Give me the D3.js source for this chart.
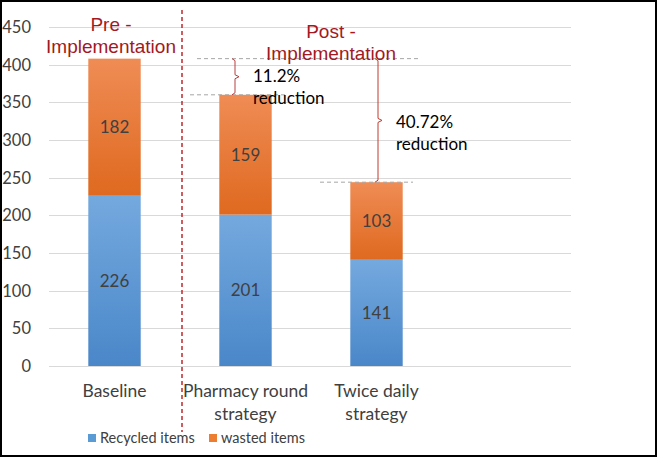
<!DOCTYPE html>
<html>
<head>
<meta charset="utf-8">
<script src="https://cdnjs.cloudflare.com/ajax/libs/d3/7.8.5/d3.min.js"></script>
<style>
  body { margin: 0; background: #fff; }
  svg { display: block; }
</style>
</head>
<body>
<div id="chart"></div>
<script>
(function() {

  var categories = [['Baseline'], ['Pharmacy round', 'strategy'], ['Twice daily', 'strategy']];
  var recycled = [226, 201, 141];
  var wasted = [182, 159, 103];
  var yTicks = [0, 50, 100, 150, 200, 250, 300, 350, 400, 450];
  var seriesNames = ['Recycled items', 'wasted items'];
  var reductions = ['11.2%', '40.72%'];

  var width = 661, height = 459;
  var labelFont = 'Lato, "Open Sans", sans-serif';

  var svg = d3.select('#chart')
    .append('svg')
    .attr('width', width)
    .attr('height', height);

  var defs = svg.append('defs');
  function gradient(id, top, bottom) {
    var g = defs.append('linearGradient').attr('id', id)
      .attr('x1', 0).attr('y1', 0).attr('x2', 0).attr('y2', 1);
    g.append('stop').attr('offset', '0%').attr('stop-color', top);
    g.append('stop').attr('offset', '100%').attr('stop-color', bottom);
  }
  gradient('blueGrad', '#74a9de', '#4a87c9');
  gradient('orangeGrad', '#ef8c55', '#df691f');

  var keys = categories.map(function(c) { return c.join(' '); });

  var x = d3.scaleBand()
    .domain(keys)
    .range([49, 442])
    .paddingInner(0.6)
    .paddingOuter(0.3);

  var y = d3.scaleLinear()
    .domain([0, 450])
    .range([366, 27]);

  // gridlines
  svg.append('g')
    .selectAll('line')
    .data(yTicks)
    .enter()
    .append('line')
    .attr('x1', 49)
    .attr('x2', 571)
    .attr('y1', function(d) { return Math.round(y(d)) + 0.5; })
    .attr('y2', function(d) { return Math.round(y(d)) + 0.5; })
    .attr('stroke', '#d9d9d9')
    .attr('stroke-width', 1);

  // y labels
  svg.append('g')
    .selectAll('text')
    .data(yTicks)
    .enter()
    .append('text')
    .attr('x', 31)
    .attr('y', function(d) { return y(d) + 6; })
    .attr('text-anchor', 'end')
    .attr('font-family', labelFont)
    .attr('font-size', 16.5)
    .attr('fill', '#404040')
    .text(function(d) { return d; });

  var stacked = keys.map(function(k, i) {
    return { key: k, r: recycled[i], w: wasted[i] };
  });

  var bars = svg.append('g');

  bars.selectAll('rect.rec')
    .data(stacked)
    .enter()
    .append('rect')
    .attr('x', function(d) { return x(d.key); })
    .attr('width', x.bandwidth())
    .attr('y', function(d) { return y(d.r); })
    .attr('height', function(d) { return y(0) - y(d.r); })
    .attr('fill', 'url(#blueGrad)');

  bars.selectAll('rect.was')
    .data(stacked)
    .enter()
    .append('rect')
    .attr('x', function(d) { return x(d.key); })
    .attr('width', x.bandwidth())
    .attr('y', function(d) { return y(d.r + d.w); })
    .attr('height', function(d) { return y(d.r) - y(d.r + d.w); })
    .attr('fill', 'url(#orangeGrad)');

  // value labels
  bars.selectAll('text.rec')
    .data(stacked)
    .enter()
    .append('text')
    .attr('x', function(d) { return x(d.key) + x.bandwidth() / 2; })
    .attr('y', function(d) { return (y(0) + y(d.r)) / 2 + 6; })
    .attr('text-anchor', 'middle')
    .attr('font-family', labelFont)
    .attr('font-size', 17)
    .attr('fill', '#404040')
    .text(function(d) { return d.r; });

  bars.selectAll('text.was')
    .data(stacked)
    .enter()
    .append('text')
    .attr('x', function(d) { return x(d.key) + x.bandwidth() / 2; })
    .attr('y', function(d) { return (y(d.r) + y(d.r + d.w)) / 2 + 6; })
    .attr('text-anchor', 'middle')
    .attr('font-family', labelFont)
    .attr('font-size', 17)
    .attr('fill', '#404040')
    .text(function(d) { return d.w; });

  // x labels
  var xl = svg.append('g');
  categories.forEach(function(lines, i) {
    var t = xl.append('text')
      .attr('x', x(keys[i]) + x.bandwidth() / 2)
      .attr('y', 397)
      .attr('text-anchor', 'middle')
      .attr('font-family', labelFont)
      .attr('font-size', 17.5)
      .attr('fill', '#404040');
    lines.forEach(function(l, j) {
      t.append('tspan')
        .attr('x', x(keys[i]) + x.bandwidth() / 2)
        .attr('dy', j === 0 ? 0 : 23)
        .text(l);
    });
  });

  // legend
  var legend = svg.append('g');
  var legendX = [88, 209];
  seriesNames.forEach(function(name, i) {
    legend.append('rect')
      .attr('x', legendX[i])
      .attr('y', 434)
      .attr('width', 8)
      .attr('height', 8)
      .attr('fill', i === 0 ? '#5b9bd5' : '#ed7d31');
    legend.append('text')
      .attr('x', legendX[i] + 12)
      .attr('y', 443)
      .attr('font-family', labelFont)
      .attr('font-size', 14.5)
      .attr('fill', '#404040')
      .text(name);
  });

  // annotations
  var ann = svg.append('g');
  var totals = stacked.map(function(d) { return d.r + d.w; });

  ann.append('line')
    .attr('x1', 182).attr('x2', 182).attr('y1', 10).attr('y2', 432)
    .attr('stroke', '#c0282d').attr('stroke-width', 1.5)
    .attr('stroke-dasharray', '4,3');

  function dashed(x1, x2, v) {
    ann.append('line')
      .attr('x1', x1).attr('x2', x2)
      .attr('y1', y(v)).attr('y2', y(v))
      .attr('stroke', '#a6a6a6').attr('stroke-width', 1)
      .attr('stroke-dasharray', '4,3');
  }
  dashed(197, 418, totals[0]);
  dashed(190, 285, totals[1]);
  dashed(320, 413, totals[2]);

  function bracket(bx, v1, v2, color) {
    var y1 = y(v1), y2 = y(v2), ym = (y1 + y2) / 2;
    ann.append('path')
      .attr('d', 'M' + (bx - 3) + ',' + y1 + ' L' + bx + ',' + (y1 + 2) +
        ' L' + bx + ',' + (ym - 2) + ' L' + (bx + 4) + ',' + ym +
        ' L' + bx + ',' + (ym + 2) + ' L' + bx + ',' + (y2 - 2) +
        ' L' + (bx - 3) + ',' + y2)
      .attr('fill', 'none')
      .attr('stroke', color)
      .attr('stroke-width', 1);
  }
  bracket(235, totals[0], totals[1], '#b5403f');
  bracket(378, totals[0], totals[2], '#c0392b');

  function note(tx, ty, lines) {
    var t = ann.append('text')
      .attr('x', tx).attr('y', ty)
      .attr('font-family', labelFont)
      .attr('font-size', 17)
      .attr('fill', '#000');
    lines.forEach(function(l, j) {
      t.append('tspan').attr('x', tx).attr('dy', j === 0 ? 0 : 22).text(l);
    });
  }
  note(253, 82, [reductions[0], 'reduction']);
  note(396, 128, [reductions[1], 'reduction']);

  function heading(cx, ty, lines) {
    var t = ann.append('text')
      .attr('x', cx).attr('y', ty)
      .attr('text-anchor', 'middle')
      .attr('font-family', '"Liberation Sans", Arial, sans-serif')
      .attr('font-size', 19)
      .attr('fill', '#a3191f');
    lines.forEach(function(l, j) {
      t.append('tspan').attr('x', cx).attr('dy', j === 0 ? 0 : 22).text(l);
    });
  }
  heading(111, 31, ['Pre -', 'Implementation']);
  heading(331, 38, ['Post -', 'Implementation']);

  // frame
  svg.append('rect')
    .attr('x', 1).attr('y', 1)
    .attr('width', 655).attr('height', 455)
    .attr('fill', 'none')
    .attr('stroke', '#000')
    .attr('stroke-width', 2);

})();
</script>
</body>
</html>
